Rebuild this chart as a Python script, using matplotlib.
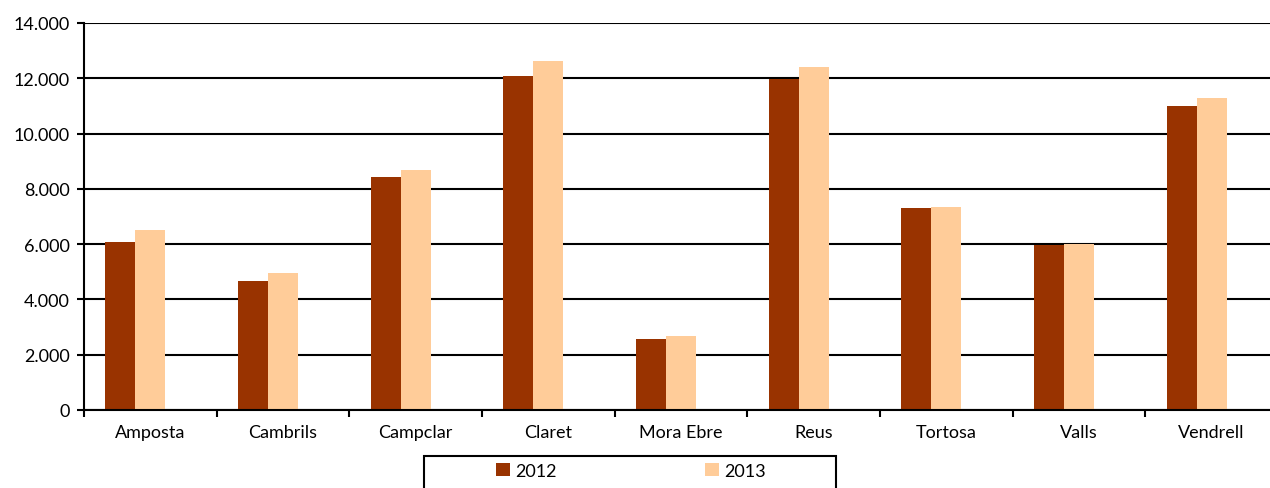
import matplotlib.pyplot as plt
import numpy as np
from matplotlib.patches import Rectangle
from matplotlib.ticker import FuncFormatter, FixedLocator

plt.rcParams["font.family"] = ["Lato", "DejaVu Sans"]

centres = ["Amposta", "Cambrils", "Campclar", "Claret", "Mora Ebre",
           "Reus", "Tortosa", "Valls", "Vendrell"]
values_2012 = [6080, 4670, 8430, 12080, 2570, 11980, 7310, 5970, 11000]
values_2013 = [6510, 4960, 8680, 12630, 2680, 12410, 7340, 6000, 11290]
years = ["2012", "2013"]
colors = ["#993300", "#FFCC99"]
yticks = [0, 2000, 4000, 6000, 8000, 10000, 12000, 14000]


def thousands(v, pos):
    return f"{int(v):,}".replace(",", ".")


def plot_chart():
    fig = plt.figure(figsize=(12.7, 4.89), dpi=100)
    # axes runs a little past the right edge, like the original crop
    ax = fig.add_axes([84 / 1270, 78 / 489, 1194 / 1270, 387 / 489])

    x = np.arange(len(centres))
    w = 30 / 133
    b1 = ax.bar(x - w, values_2012, width=w, color=colors[0], zorder=3)
    b2 = ax.bar(x, values_2013, width=w, color=colors[1], zorder=3)

    ax.set_xlim(-0.5, len(centres) - 0.5)
    ax.set_ylim(0, 14000)

    for y in yticks:
        ax.axhline(y, color="black", lw=1.5, zorder=1)

    ax.set_yticks(yticks)
    ax.yaxis.set_major_formatter(FuncFormatter(thousands))
    ax.tick_params(axis="y", length=5, width=1.5, pad=5, labelsize=13,
                   direction="out", colors="black")

    ax.set_xticks(x)
    ax.set_xticklabels(centres)
    ax.tick_params(axis="x", which="major", length=0, pad=10, labelsize=13)
    ax.xaxis.set_minor_locator(FixedLocator(np.arange(len(centres) + 1) - 0.5))
    ax.tick_params(axis="x", which="minor", length=5, width=1.5)

    for side in ["top", "right"]:
        ax.spines[side].set_visible(False)
    for side in ["left", "bottom"]:
        ax.spines[side].set_linewidth(1.5)
        ax.spines[side].set_zorder(4)

    frame = Rectangle((424 / 1270, -0.05), 412 / 1270, 32 / 489 + 0.05,
                      transform=fig.transFigure, fill=False,
                      edgecolor="black", lw=1.5)
    fig.add_artist(frame)
    fig.legend([b1, b2], years, loc="center",
               bbox_to_anchor=(631 / 1270, 1 - 472 / 489), ncol=2,
               frameon=False, fontsize=13, handlelength=0.75,
               handleheight=0.75, handletextpad=0.3, columnspacing=8.2)

    fig.savefig("out.png", dpi=100)
    plt.close(fig)


if __name__ == "__main__":
    plot_chart()
